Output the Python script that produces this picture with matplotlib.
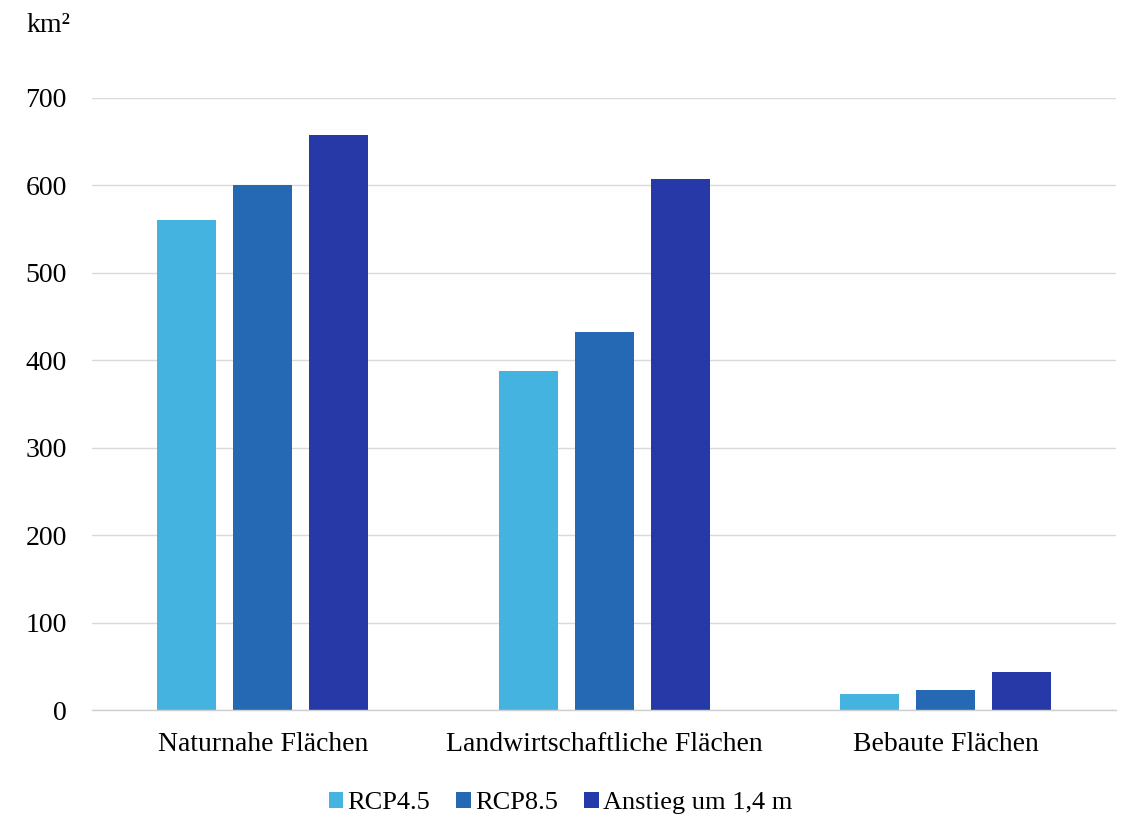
import numpy as np
import matplotlib.pyplot as plt
from matplotlib.patches import Patch

# Flächen, die bei den Szenarien betroffen wären (km²)
categories = ['Naturnahe Flächen', 'Landwirtschaftliche Flächen', 'Bebaute Flächen']
series_names = ['RCP4.5', 'RCP8.5', 'Anstieg um 1,4 m']
rcp45 = [560, 388, 18]
rcp85 = [600, 432, 23]
anstieg = [658, 607, 43]
yticks = [0, 100, 200, 300, 400, 500, 600, 700]

colors = ['#45B3E0', '#2569B4', '#2739A7']
grid_color = '#D9D9D9'

plt.rcParams['font.family'] = ['Liberation Serif', 'DejaVu Serif']

fig = plt.figure(figsize=(11.27, 8.15), dpi=100)
ax = fig.add_axes([0.0816, 0.1288, 0.909, 0.751])

x = np.arange(len(categories))
width = 0.173
step = 0.2225
for i, (vals, col) in enumerate(zip([rcp45, rcp85, anstieg], colors)):
    ax.bar(x + (i - 1) * step, vals, width, color=col, zorder=3)

ax.set_xlim(-0.5, len(categories) - 0.5)
ax.set_ylim(0, 700)
ax.set_yticks(yticks)
ax.set_xticks(x)
ax.set_xticklabels(categories)
ax.tick_params(axis='y', length=0, pad=18, labelsize=20)
ax.tick_params(axis='x', length=0, pad=15.5, labelsize=20)
ax.yaxis.grid(True, color=grid_color, linewidth=1, zorder=0)
for side in ['top', 'right', 'left']:
    ax.spines[side].set_visible(False)
ax.spines['bottom'].set_color('#CFCFCF')
ax.spines['bottom'].set_linewidth(1)
ax.spines['bottom'].set_zorder(4)

fig.text(0.0231, 0.9607, 'km²', fontsize=20, va='baseline', ha='left')

handles = [Patch(facecolor=c, edgecolor='none') for c in colors]
fig.legend(handles, series_names, loc='center', bbox_to_anchor=(0.4973, 0.0150),
           ncol=3, frameon=False, fontsize=19, handlelength=0.55, handleheight=0.55,
           handletextpad=0.15, columnspacing=1.0, borderpad=0)

fig.savefig('out.png', dpi=100)
